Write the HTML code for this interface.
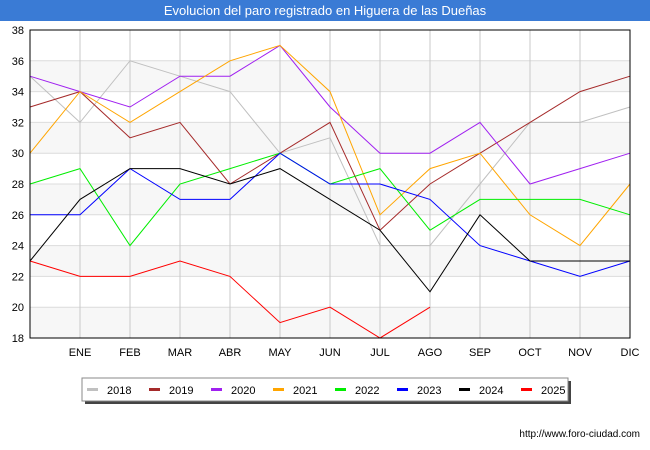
<!DOCTYPE html>
<html><head><meta charset="utf-8"><style>
body{margin:0;background:#fff;font-family:"Liberation Sans","DejaVu Sans",sans-serif;}
svg{display:block}
</style></head><body>
<svg width="650" height="450" id="chart" xmlns="http://www.w3.org/2000/svg">
<rect x="0" y="0" width="650" height="450" fill="#fff"/>
<rect x="0" y="0" width="650" height="21" fill="#3a7bd5"/>
<text x="325" y="15" text-anchor="middle" font-size="13" fill="#fff">Evolucion del paro registrado en Higuera de las Dueñas</text>
<g id="plot"></g>
<text x="640" y="437" text-anchor="end" font-size="10" fill="#000">http://www.foro-ciudad.com</text>
</svg>
<script>
const months=["","ENE","FEB","MAR","ABR","MAY","JUN","JUL","AGO","SEP","OCT","NOV","DIC"];
const yTicks=[18,20,22,24,26,28,30,32,34,36,38];
const years=["2018","2019","2020","2021","2022","2023","2024","2025"];
const colors=["#c0c0c0","#a52a2a","#a020f0","#ffa500","#00ee00","#0000ff","#000000","#ff0000"];
const s2018=[35,32,36,35,34,30,31,24,24,28,32,32,33];
const s2019=[33,34,31,32,28,30,32,25,28,30,32,34,35];
const s2020=[35,34,33,35,35,37,33,30,30,32,28,29,30];
const s2021=[30,34,32,34,36,37,34,26,29,30,26,24,28];
const s2022=[28,29,24,28,29,30,28,29,25,27,27,27,26];
const s2023=[26,26,29,27,27,30,28,28,27,24,23,22,23];
const s2024=[23,27,29,29,28,29,27,25,21,26,23,23,23];
const s2025=[23,22,22,23,22,19,20,18,20];
const series=[s2018,s2019,s2020,s2021,s2022,s2023,s2024,s2025];
const L=30,R=630,T=30,B=338,ymin=18,ymax=38;
const xs=i=>L+i*(R-L)/12;
const ys=v=>B-(v-ymin)*(B-T)/(ymax-ymin);
const NS="http://www.w3.org/2000/svg";
const g=document.getElementById('plot');
function mk(t,a,p){const e=document.createElementNS(NS,t);for(const k in a)e.setAttribute(k,a[k]);(p||g).appendChild(e);return e;}
for(let i=0;i<yTicks.length-1;i++){
  if(i%2==0){const r=mk('rect',{x:L,y:ys(yTicks[i+1]),width:R-L,height:ys(yTicks[i])-ys(yTicks[i+1]),fill:'#f7f7f7'});
  
  }
}
yTicks.forEach(v=>{
  const l=mk('line',{x1:L,x2:R,y1:ys(v),y2:ys(v),stroke:'#dcdcdc','stroke-width':1});
  
  
  const t=mk('text',{x:L-6,y:ys(v)+4,'text-anchor':'end','font-size':11,fill:'#000'});t.textContent=v;
  
  
});
months.forEach((m,i)=>{
  if(i>0){const l=mk('line',{x1:xs(i),x2:xs(i),y1:T,y2:B,stroke:'#c8c8c8','stroke-width':1});
  
  }
  const t=mk('text',{x:xs(i),y:B+18,'text-anchor':'middle','font-size':11,fill:'#000'});t.textContent=m;
  
  
});
series.forEach((s,k)=>{
  const p=mk('polyline',{points:s.map((v,i)=>xs(i)+','+ys(v)).join(' '),fill:'none',stroke:colors[k],'stroke-width':1});
  
  
});
const fr=mk('rect',{x:L,y:T,width:R-L,height:B-T,fill:'none',stroke:'#000','stroke-width':1});


const lg=mk('g',{});


mk('rect',{x:85,y:381,width:486,height:23,fill:'#444'},lg);
mk('rect',{x:82,y:378,width:486,height:23,fill:'#fff',stroke:'#888','stroke-width':1},lg);
years.forEach((y,k)=>{
  const x=87+k*62;
  const sw=mk('rect',{x:x,y:388,width:11,height:3,fill:colors[k]},lg);
  
  
  const t=mk('text',{x:x+20,y:394,'font-size':11,fill:'#000'},lg);t.textContent=y;
  
  
});
</script>
</body></html>
